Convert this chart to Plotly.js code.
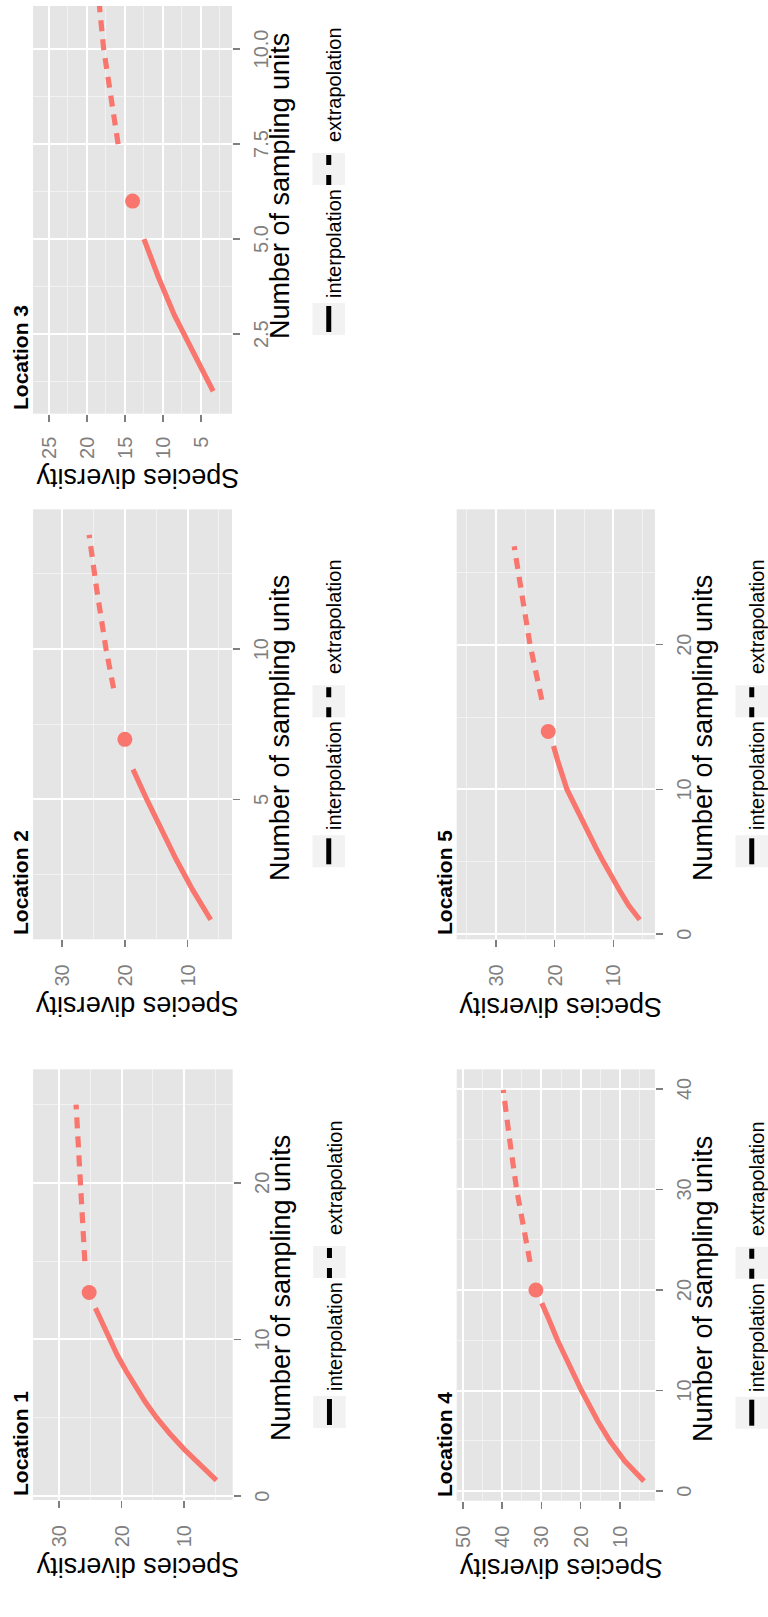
<!DOCTYPE html>
<html><head><meta charset="utf-8">
<script src="https://cdn.plot.ly/plotly-3.0.1.min.js"></script>
<style>
html,body{margin:0;padding:0;overflow:hidden;background:#fff;width:768px;height:1617px;}
#rot{position:absolute;left:0;top:0;width:1617px;height:768px;transform-origin:0 0;transform:translateY(1617px) rotate(-90deg);}
#chart{width:1617px;height:768px;}
</style></head>
<body><div id="rot"><div id="chart"></div></div>
<script>
// ---------- text ----------
const locationTitles = ['Location 1', 'Location 2', 'Location 3', 'Location 4', 'Location 5'];
const xAxisTitle = 'Number of sampling units';
const yAxisTitle = 'Species diversity';
const legendLabels = ['interpolation', 'extrapolation'];

// ---------- Location 1 ----------
const loc1InterpX = [1, 2, 3, 4, 5, 6, 7, 8, 9, 10, 11, 12];
const loc1InterpY = [4.8, 7.5, 10.0, 12.3, 14.4, 16.2, 17.8, 19.3, 20.7, 21.9, 23.1, 24.2];
const loc1ObsX = [13];
const loc1ObsY = [25.2];
const loc1ExtrapX = [15, 18, 21, 25];
const loc1ExtrapY = [25.9, 26.3, 26.8, 27.3];
const loc1XTicks = [0, 10, 20];
const loc1XTickText = ['0', '10', '20'];
const loc1XMinor = [5, 15, 25];
const loc1YTicks = [10, 20, 30];
const loc1YTickText = ['10', '20', '30'];
const loc1YMinor = [5, 15, 25];

// ---------- Location 2 ----------
const loc2InterpX = [1, 2, 3, 4, 5, 6];
const loc2InterpY = [6.3, 9.2, 11.8, 14.2, 16.5, 18.7];
const loc2ObsX = [7];
const loc2ObsY = [20.0];
const loc2ExtrapX = [8.7, 10, 12, 13.8];
const loc2ExtrapY = [21.8, 23.0, 24.5, 25.7];
const loc2XTicks = [5, 10];
const loc2XTickText = ['5', '10'];
const loc2XMinor = [2.5, 7.5, 12.5];
const loc2YTicks = [10, 20, 30];
const loc2YTickText = ['10', '20', '30'];
const loc2YMinor = [5, 15, 25];

// ---------- Location 3 ----------
const loc3InterpX = [1, 2, 3, 4, 5];
const loc3InterpY = [3.4, 6.0, 8.5, 10.6, 12.5];
const loc3ObsX = [6];
const loc3ObsY = [14.0];
const loc3ExtrapX = [7.5, 10, 11, 12];
const loc3ExtrapY = [15.9, 17.8, 18.3, 18.7];
const loc3XTicks = [2.5, 5, 7.5, 10];
const loc3XTickText = ['2.5', '5.0', '7.5', '10.0'];
const loc3XMinor = [1.25, 3.75, 6.25, 8.75];
const loc3YTicks = [5, 10, 15, 20, 25];
const loc3YTickText = ['5', '10', '15', '20', '25'];
const loc3YMinor = [2.5, 7.5, 12.5, 17.5, 22.5];

// ---------- Location 4 ----------
const loc4InterpX = [1, 3, 5, 7, 10, 13, 15, 17, 18.7];
const loc4InterpY = [3.9, 8.8, 12.6, 15.7, 19.8, 23.6, 25.9, 28.0, 29.9];
const loc4ObsX = [20];
const loc4ObsY = [31.4];
const loc4ExtrapX = [22.8, 26, 30, 35, 39.9];
const loc4ExtrapY = [32.9, 34.5, 36.3, 38.1, 39.7];
const loc4XTicks = [0, 10, 20, 30, 40];
const loc4XTickText = ['0', '10', '20', '30', '40'];
const loc4XMinor = [5, 15, 25, 35];
const loc4YTicks = [10, 20, 30, 40, 50];
const loc4YTickText = ['10', '20', '30', '40', '50'];
const loc4YMinor = [5, 15, 25, 35, 45];

// ---------- Location 5 ----------
const loc5InterpX = [1, 2, 3, 4, 5, 6, 8, 10, 12, 13];
const loc5InterpY = [5.5, 7.4, 8.9, 10.4, 11.7, 13.0, 15.5, 17.9, 19.5, 20.2];
const loc5ObsX = [14];
const loc5ObsY = [21.1];
const loc5ExtrapX = [16.2, 20, 24, 26.8];
const loc5ExtrapY = [22.2, 24.2, 25.8, 26.9];
const loc5XTicks = [0, 10, 20];
const loc5XTickText = ['0', '10', '20'];
const loc5XMinor = [5, 15, 25];
const loc5YTicks = [10, 20, 30];
const loc5YTickText = ['10', '20', '30'];
const loc5YMinor = [5, 15, 25, 35];

const series = [
  {ix: loc1InterpX, iy: loc1InterpY, ox: loc1ObsX, oy: loc1ObsY, ex: loc1ExtrapX, ey: loc1ExtrapY,
   xt: loc1XTicks, xtt: loc1XTickText, xm: loc1XMinor, yt: loc1YTicks, ytt: loc1YTickText, ym: loc1YMinor},
  {ix: loc2InterpX, iy: loc2InterpY, ox: loc2ObsX, oy: loc2ObsY, ex: loc2ExtrapX, ey: loc2ExtrapY,
   xt: loc2XTicks, xtt: loc2XTickText, xm: loc2XMinor, yt: loc2YTicks, ytt: loc2YTickText, ym: loc2YMinor},
  {ix: loc3InterpX, iy: loc3InterpY, ox: loc3ObsX, oy: loc3ObsY, ex: loc3ExtrapX, ey: loc3ExtrapY,
   xt: loc3XTicks, xtt: loc3XTickText, xm: loc3XMinor, yt: loc3YTicks, ytt: loc3YTickText, ym: loc3YMinor},
  {ix: loc4InterpX, iy: loc4InterpY, ox: loc4ObsX, oy: loc4ObsY, ex: loc4ExtrapX, ey: loc4ExtrapY,
   xt: loc4XTicks, xtt: loc4XTickText, xm: loc4XMinor, yt: loc4YTicks, ytt: loc4YTickText, ym: loc4YMinor},
  {ix: loc5InterpX, iy: loc5InterpY, ox: loc5ObsX, oy: loc5ObsY, ex: loc5ExtrapX, ey: loc5ExtrapY,
   xt: loc5XTicks, xtt: loc5XTickText, xm: loc5XMinor, yt: loc5YTicks, ytt: loc5YTickText, ym: loc5YMinor}
];

// ---------- geometry & style (px, in the un-rotated 1617x768 frame) ----------
const W = 1617, H = 768;
const FONT = '"Liberation Sans", Arial, Helvetica, sans-serif';
const SALMON = '#F8766D';
const geom = [
  {x0: 117,    x1: 547.7,  y0: 33,    y1: 232.7, xr: [-0.25, 27.25], yr: [2.2, 34.2],  xc: 328.5, ytOff: 67.5, ylStand: 13, legL: 72},
  {x0: 677.7,  x1: 1107.7, y0: 33,    y1: 232,   xr: [0.35, 14.65],  yr: [2.9, 34.66], xc: 888.5, ytOff: 67.5, ylStand: 13, legL: 72},
  {x0: 1203.3, x1: 1611,   y0: 33,    y1: 232,   xr: [0.41, 11.13],  yr: [0.92, 27.1], xc: 1431,  ytOff: 64.6, ylStand: 11, legL: 78.7},
  {x0: 116.3,  x1: 547.7,  y0: 456.7, y1: 655,   xr: [-0.95, 41.95], yr: [1.1, 51.55], xc: 328,   ytOff: 67.5, ylStand: 13, legL: 72},
  {x0: 677.7,  x1: 1107.7, y0: 456.7, y1: 655,   xr: [-0.35, 29.35], yr: [2.9, 36.7],  xc: 888.5, ytOff: 67.5, ylStand: 13, legL: 72}
];
const px = X => X / W;
const py = Y => 1 - Y / H;

const traces = [];
const layout = {
  width: W, height: H,
  margin: {l: 0, r: 0, t: 0, b: 0, pad: 0},
  paper_bgcolor: '#ffffff',
  plot_bgcolor: '#e5e5e5',
  showlegend: false,
  font: {family: FONT, color: '#000000'},
  annotations: [],
  shapes: []
};

series.forEach((d, i) => {
  const g = geom[i];
  const sfx = i === 0 ? '' : String(i + 1);
  const xa = 'x' + sfx, ya = 'y' + sfx;

  traces.push({x: d.ix, y: d.iy, xaxis: xa, yaxis: ya, type: 'scatter', mode: 'lines',
    line: {color: SALMON, width: 5.2}, hoverinfo: 'skip'});
  traces.push({x: d.ex, y: d.ey, xaxis: xa, yaxis: ya, type: 'scatter', mode: 'lines',
    line: {color: SALMON, width: 5.2, dash: '11px,8px'}, hoverinfo: 'skip'});
  traces.push({x: d.ox, y: d.oy, xaxis: xa, yaxis: ya, type: 'scatter', mode: 'markers',
    marker: {color: SALMON, size: 15, line: {width: 0}}, hoverinfo: 'skip'});

  const common = {
    tickmode: 'array', ticks: 'outside', ticklen: 7, tickwidth: 1.5, tickcolor: '#7f7f7f',
    tickfont: {family: FONT, size: 20, color: '#7f7f7f'},
    showgrid: true, gridcolor: '#ffffff', gridwidth: 2,
    zeroline: false, showline: false, fixedrange: true
  };
  layout['xaxis' + sfx] = Object.assign({}, common, {
    domain: [px(g.x0), px(g.x1)], anchor: ya, range: g.xr,
    tickvals: d.xt, ticktext: d.xtt, ticklabelstandoff: 4,
    minor: {tickmode: 'array', tickvals: d.xm, showgrid: true, gridcolor: '#f2f2f2', gridwidth: 1, ticks: ''}
  });
  layout['yaxis' + sfx] = Object.assign({}, common, {
    domain: [py(g.y1), py(g.y0)], anchor: xa, range: g.yr,
    tickvals: d.yt, ticktext: d.ytt, ticklabelstandoff: g.ylStand,
    minor: {tickmode: 'array', tickvals: d.ym, showgrid: true, gridcolor: '#f2f2f2', gridwidth: 1, ticks: ''}
  });

  // panel title
  layout.annotations.push({text: '<b>' + locationTitles[i] + '</b>', xref: 'paper', yref: 'paper',
    x: px(g.x0 + 2), y: py(g.y0 + 1), xanchor: 'left', yanchor: 'bottom', showarrow: false,
    font: {family: FONT, size: 21, color: '#000000'}});
  // axis titles
  layout.annotations.push({text: xAxisTitle, xref: 'paper', yref: 'paper',
    x: px(g.xc), y: py(g.y1 + 31), xanchor: 'center', yanchor: 'top', showarrow: false,
    font: {family: FONT, size: 27, color: '#000000'}});
  layout.annotations.push({text: yAxisTitle, xref: 'paper', yref: 'paper', textangle: -90,
    x: px(g.x0 - g.ytOff), y: py((g.y0 + g.y1) / 2 + 5), xanchor: 'center', yanchor: 'middle', showarrow: false,
    font: {family: FONT, size: 27, color: '#000000'}});

  // legend
  const K = g.x0 + g.legL, B = g.y1;
  const kTop = B + 80.5, kBot = B + 113, kMid = (kTop + kBot) / 2;
  layout.shapes.push({type: 'rect', xref: 'paper', yref: 'paper', x0: px(K), x1: px(K + 32),
    y0: py(kBot), y1: py(kTop), fillcolor: '#f2f2f2', line: {width: 0}, layer: 'above'});
  layout.shapes.push({type: 'line', xref: 'paper', yref: 'paper', x0: px(K + 3), x1: px(K + 29),
    y0: py(kMid), y1: py(kMid), line: {color: '#000000', width: 5}});
  layout.shapes.push({type: 'rect', xref: 'paper', yref: 'paper', x0: px(K + 150), x1: px(K + 182),
    y0: py(kBot), y1: py(kTop), fillcolor: '#f2f2f2', line: {width: 0}, layer: 'above'});
  layout.shapes.push({type: 'line', xref: 'paper', yref: 'paper', x0: px(K + 150), x1: px(K + 180),
    y0: py(kMid), y1: py(kMid), line: {color: '#000000', width: 5, dash: '10px,10px'}});
  layout.annotations.push({text: legendLabels[0], xref: 'paper', yref: 'paper',
    x: px(K + 35), y: py(B + 102), xanchor: 'left', yanchor: 'middle', showarrow: false,
    font: {family: FONT, size: 20, color: '#000000'}});
  layout.annotations.push({text: legendLabels[1], xref: 'paper', yref: 'paper',
    x: px(K + 191), y: py(B + 102), xanchor: 'left', yanchor: 'middle', showarrow: false,
    font: {family: FONT, size: 20, color: '#000000'}});
});

Plotly.newPlot('chart', traces, layout, {staticPlot: true, displayModeBar: false});
</script>
</body></html>
